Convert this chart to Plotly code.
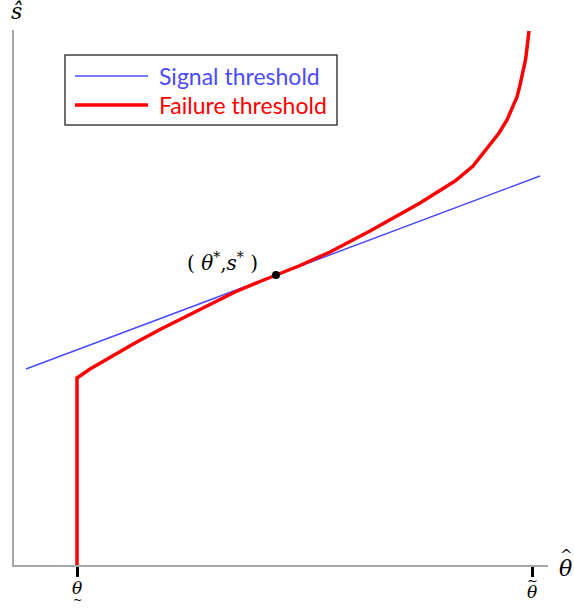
import plotly.graph_objects as go

# Failure threshold curve (theta, s)
fail_theta = [0.63, 0.63, 0.76, 0.96, 1.21, 1.46, 1.71, 1.96, 2.21, 2.46, 2.62, 2.86, 3.16,
              3.56, 4.06, 4.26, 4.41, 4.59, 4.76, 4.85, 4.93, 4.98, 5.03, 5.06, 5.09,
              5.115, 5.13, 5.143, 5.15]
fail_s = [0.0, 1.87, 1.96, 2.08, 2.22, 2.355, 2.48, 2.61, 2.73, 2.835, 2.90, 2.995, 3.13,
          3.34, 3.62, 3.74, 3.84, 3.99, 4.20, 4.32, 4.45, 4.56, 4.68, 4.80, 4.93,
          5.05, 5.17, 5.25, 5.34]

# Signal threshold line
signal_theta = [0.12, 5.26]
signal_s = [1.96, 3.89]

# Tangency point
star_theta = [2.62]
star_s = [2.90]

# Tick positions on theta axis
theta_low = 0.63
theta_high = 5.18
X_MAX = 5.34
Y_MAX = 5.35

BLUE = "#4b4bff"
RED = "#ff0000"
SERIF = "DejaVu Serif"

fig = go.Figure()
fig.add_trace(go.Scatter(x=signal_theta, y=signal_s, mode="lines",
                         line=dict(color=BLUE, width=1.5), name="Signal threshold",
                         showlegend=False))
fig.add_trace(go.Scatter(x=fail_theta, y=fail_s, mode="lines",
                         line=dict(color=RED, width=3.5),
                         name="Failure threshold", showlegend=False, cliponaxis=False))
fig.add_trace(go.Scatter(x=star_theta, y=star_s, mode="markers",
                         marker=dict(color="black", size=8), showlegend=False))


def ptext(x, y, text, size):
    return dict(x=x, y=y, xref="paper", yref="paper", text=text, showarrow=False,
                xanchor="center", yanchor="middle",
                font=dict(family=SERIF, size=size, color="black"))


ann = []
# axis labels (paper coordinates, outside plot area)
ann.append(ptext(0.004, 1.034, "<i>ŝ</i>", 22))
ann.append(ptext(1.032, -0.006, "<i>θ</i>", 22))
ann.append(ptext(1.034, 0.018, "^", 15))
# tick labels
low_p = theta_low / X_MAX
high_p = theta_high / X_MAX
ann.append(ptext(low_p, -0.043, "<i>θ</i>", 17))
ann.append(ptext(low_p, -0.066, "~", 11))
ann.append(ptext(high_p, -0.051, "<i>θ</i>", 17))
ann.append(ptext(high_p, -0.029, "~", 13))
# point label
ann.append(dict(x=star_theta[0] - 0.54, y=star_s[0] + 0.13, xref="x", yref="y",
                text="( <i>θ</i><sup>*</sup>,<i>s</i><sup>*</sup> )", showarrow=False,
                font=dict(family=SERIF, size=20, color="black")))
# legend
ann.append(dict(x=1.43, y=4.89, xref="x", yref="y", text="Signal threshold", showarrow=False,
                xanchor="left", font=dict(family="Lato", size=23, color=BLUE)))
ann.append(dict(x=1.43, y=4.60, xref="x", yref="y", text="Failure threshold", showarrow=False,
                xanchor="left", font=dict(family="Lato", size=23, color=RED)))

shapes = [
    dict(type="rect", xref="x", yref="y", x0=0.51, x1=3.23, y0=4.40, y1=5.10,
         line=dict(color="#404040", width=1.5), fillcolor="white", layer="below"),
    dict(type="line", xref="x", yref="y", x0=0.61, x1=1.34, y0=4.89, y1=4.89,
         line=dict(color=BLUE, width=1.5)),
    dict(type="line", xref="x", yref="y", x0=0.61, x1=1.34, y0=4.60, y1=4.60,
         line=dict(color=RED, width=3.5)),
]

fig.update_layout(
    width=574, height=611,
    margin=dict(l=14, r=26, t=30, b=46),
    paper_bgcolor="white", plot_bgcolor="white",
    annotations=ann, shapes=shapes,
    xaxis=dict(range=[0, X_MAX], showgrid=False, zeroline=False, showline=True,
               linecolor="#a6a6a6", linewidth=2, tickvals=[theta_low, theta_high],
               ticktext=["", ""], ticks="outside", ticklen=10, tickwidth=3,
               tickcolor="black", fixedrange=True),
    yaxis=dict(range=[0, Y_MAX], showgrid=False, zeroline=False, showline=True,
               linecolor="#a6a6a6", linewidth=2, showticklabels=False, ticks="",
               fixedrange=True),
)

fig.write_html("out.html", config={"displayModeBar": False},
               post_script="document.body.style.margin='0';document.body.style.overflow='hidden';")
